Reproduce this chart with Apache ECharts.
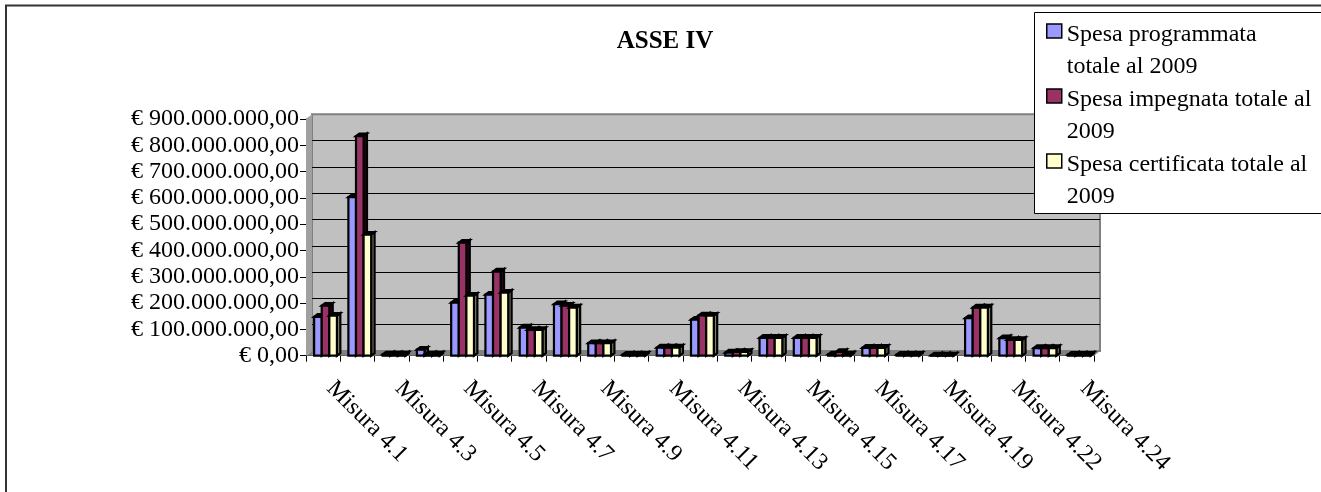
<!DOCTYPE html>
<html>
<head>
<meta charset="utf-8">
<style>html,body{margin:0;padding:0;background:#fff}#c{width:1321px;height:492px}</style>
<script src="https://cdn.jsdelivr.net/npm/echarts@6/dist/echarts.min.js"></script>
</head>
<body>
<div id="c"></div>
<script>
const categories = ['Misura 4.1','Misura 4.2','Misura 4.3','Misura 4.4','Misura 4.5','Misura 4.6','Misura 4.7','Misura 4.8','Misura 4.9','Misura 4.10','Misura 4.11','Misura 4.12','Misura 4.13','Misura 4.14','Misura 4.15','Misura 4.16','Misura 4.17','Misura 4.18','Misura 4.19','Misura 4.20','Misura 4.22','Misura 4.23','Misura 4.24'];
const programmata = [148,603,5,23,202,232,107,196,48,4,31,137,12,68,68,5,30,4,1,143,67,29,4];
const impegnata   = [190,835,5,5,430,320,98,190,48,4,31,153,14,68,68,14,30,4,1,183,60,29,4];
const certificata = [152,460,5,5,228,240,98,183,48,4,31,152,14,68,68,5,30,4,1,183,60,29,4];
const seriesNames = ['Spesa programmata totale al 2009','Spesa impegnata totale al 2009','Spesa certificata totale al 2009'];
const legendLines = {
  'Spesa programmata totale al 2009':['Spesa programmata','totale al 2009'],
  'Spesa impegnata totale al 2009':['Spesa impegnata totale al','2009'],
  'Spesa certificata totale al 2009':['Spesa certificata totale al','2009']
};
const FONT = '"Liberation Serif", serif';
const faces = [
  {front:'#9999ff', side:'#4d4d80', shift:-5.2},
  {front:'#993366', side:'#33001a', shift:2.4},
  {front:'#ffffcc', side:'#808066', shift:10}
];
const BAR_W = 7.6, DX = 3.4, DY = -2.6, WALL_DX = 6, WALL_DY = -4.7;

function barRenderer(face){
  return function(params, api){
    const top = api.coord([api.value(0), api.value(1)]);
    const base = api.coord([api.value(0), 0]);
    const l = base[0] + face.shift - BAR_W/2, r = l + BAR_W, t = top[1], b = base[1];
    const stroke = {stroke:'#000', lineWidth:2.2, lineJoin:'miter'};
    return {type:'group', children:[
      {type:'polygon', shape:{points:[[r,b],[r+DX,b+DY],[r+DX,t+DY],[r,t]]}, style:Object.assign({fill:face.side},stroke)},
      {type:'polygon', shape:{points:[[l,t],[l+DX,t+DY],[r+DX,t+DY],[r,t]]}, style:Object.assign({fill:'#000'},stroke)},
      {type:'rect', shape:{x:l,y:t,width:BAR_W,height:b-t}, style:Object.assign({fill:face.front},stroke)}
    ]};
  };
}
function wallRenderer(params, api){
  const a = api.coord([0,0]), c = api.coord([categories.length-1,900]);
  const half = api.size([1,0])[0]/2;
  const xl = a[0]-half, xr = c[0]+half, yb = a[1], yt = c[1];
  return {type:'group', silent:true, children:[
    {type:'polygon', shape:{points:[[xl,yb],[xl+WALL_DX,yb+WALL_DY],[xr+WALL_DX,yb+WALL_DY],[xr,yb]]}, style:{fill:'#808080'}},
    {type:'polygon', shape:{points:[[xl,yb],[xl+WALL_DX,yb+WALL_DY],[xl+WALL_DX,yt+WALL_DY],[xl,yt]]}, style:{fill:'#a0a0a0'}}
  ]};
}
const valueLists = [programmata, impegnata, certificata];
const chart = echarts.init(document.getElementById('c'));
chart.setOption({
  animation:false,
  backgroundColor:'#fff',
  textStyle:{fontFamily:FONT},
  title:{text:'ASSE IV', left:660, top:24, textAlign:'center',
    textStyle:{fontFamily:FONT, fontSize:25, fontWeight:'bold', color:'#000'}},
  graphic:{z:3, elements:[
    {type:'polyline', z:3, shape:{points:[[6,492],[6,5.5],[1321,5.5]]}, style:{stroke:'#333', lineWidth:2, fill:null}},
    {type:'rect', z:3, shape:{x:1034.5,y:12.5,width:290,height:201}, style:{fill:'#fff', stroke:'#000', lineWidth:1}}
  ]},
  legend:{
    z:5,
    data:seriesNames, orient:'vertical', left:1046, top:-13, padding:0,
    icon:'rect', itemWidth:15, itemHeight:14, itemGap:-27, selectedMode:false,
    itemStyle:{borderColor:'#000', borderWidth:1.5},
    formatter:n=>'{b| }\n{t|'+legendLines[n][0]+'}\n{t|'+legendLines[n][1]+'}',
    textStyle:{fontFamily:FONT, fontSize:24, color:'#000',
      rich:{
        b:{fontFamily:FONT, fontSize:24, lineHeight:40},
        t:{fontFamily:FONT, fontSize:24, lineHeight:32, color:'#000'}
      }}
  },
  grid:[
    {left:306, top:119, width:788, height:236.7, show:false},
    {left:306+WALL_DX, top:119+WALL_DY, width:788, height:236.7, show:true, backgroundColor:'#c0c0c0', borderColor:'#808080', borderWidth:2}
  ],
  xAxis:[
    {type:'category', gridIndex:0, data:categories,
      axisLine:{lineStyle:{color:'#000'}},
      axisTick:{show:true, interval:0, length:6, lineStyle:{color:'#000'}},
      axisLabel:{interval:1, rotate:-45, margin:22, color:'#000', hideOverlap:false,
        formatter:v=>'{m|'+v+'}',
        rich:{m:{fontFamily:FONT, fontSize:24, color:'#000', padding:[0,0,0,10]}}},
      splitLine:{show:false}},
    {type:'category', gridIndex:1, data:categories,
      axisLine:{show:false}, axisTick:{show:false}, axisLabel:{show:false}, splitLine:{show:false}}
  ],
  yAxis:[
    {type:'value', gridIndex:0, min:0, max:900, interval:100,
      axisLine:{show:true, lineStyle:{color:'#000'}},
      axisTick:{show:true, length:6, lineStyle:{color:'#000'}},
      axisLabel:{margin:7, fontFamily:FONT, fontSize:24, color:'#000',
        formatter:v=> v===0 ? '€ 0,00' : '€ '+v+'.000.000,00'},
      splitLine:{show:false}},
    {type:'value', gridIndex:1, min:0, max:900, interval:100,
      axisLine:{show:false}, axisTick:{show:false}, axisLabel:{show:false},
      splitLine:{show:true, showMinLine:false, showMaxLine:false, lineStyle:{color:'#000', width:1}}}
  ],
  series:[
    {type:'custom', name:'pareti', silent:true, xAxisIndex:0, yAxisIndex:0, renderItem:wallRenderer, data:[[0,0]], encode:{x:0,y:1}, z:1}
  ].concat(seriesNames.map((name,i)=>({
    type:'custom', name:name, xAxisIndex:0, yAxisIndex:0, renderItem:barRenderer(faces[i]),
    itemStyle:{color:faces[i].front}, clip:false, z:2,
    encode:{x:0,y:1},
    data:valueLists[i].map((v,k)=>[k,v])
  })))
});
</script>
</body>
</html>
